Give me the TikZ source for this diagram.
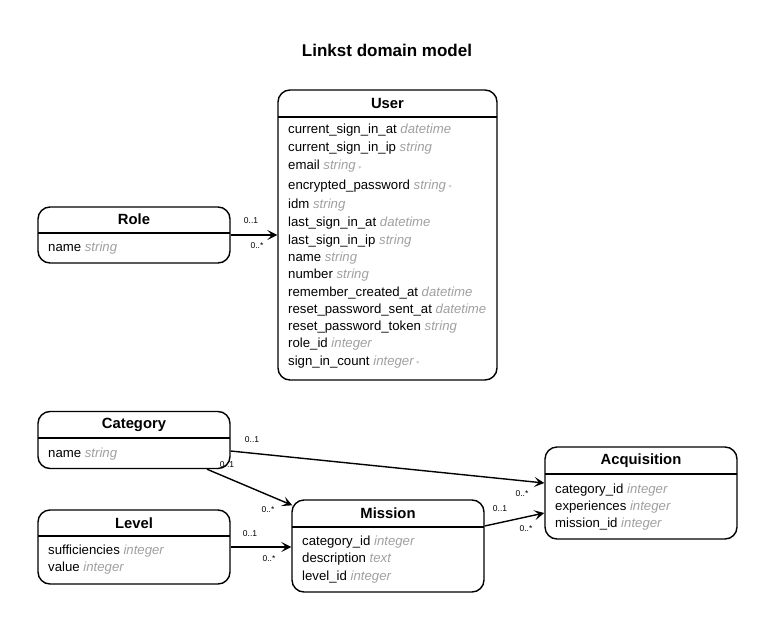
\documentclass[tikz,border=0pt]{standalone}
\usepackage{fontspec}
\setmainfont{Liberation Sans}
\usetikzlibrary{arrows.meta}
\definecolor{typegray}{RGB}{160,160,160}
\tikzset{
  tbl/.style={draw=black, line width=1.4pt, rounded corners=12pt, inner sep=0pt},
  hdr/.style={font=\fontsize{14.8}{16}\selectfont\bfseries, inner sep=0pt},
  attr/.style={anchor=base west, inner sep=0pt, font=\fontsize{13.2}{15}\selectfont},
  sep/.style={line width=1.1pt},
  conn/.style={line width=1.4pt, -{Stealth[length=10pt,width=10pt,inset=4.5pt]}},
  card/.style={font=\fontsize{8.5}{9}\selectfont, inner sep=0pt},
}
\newcommand{\ty}[1]{{\color{typegray}\itshape #1}}
\newcommand{\req}{{\color{typegray}\,\raisebox{0.5pt}{\fontsize{7}{7}\selectfont$\ast$}}}
\begin{document}
\begin{tikzpicture}[x=1pt,y=-1pt]
\useasboundingbox (0,0) rectangle (775,631);
\node[font=\fontsize{17}{19}\selectfont\bfseries, inner sep=0pt] (title) at (387,50) {Linkst domain model};

% User
\node[tbl, minimum width=219pt, minimum height=290pt] (user) at (387.5,235) {};
\node[hdr] (userh) at (387.5,103) {User};
\draw[sep] (278,117) -- (497,117);
\node[attr] (u1) at (288,133.5) {current\_sign\_in\_at \ty{datetime}};
\node[attr] (u2) at (288,151.5) {current\_sign\_in\_ip \ty{string}};
\node[attr] (u3) at (288,169.5) {email \ty{string}\req};
\node[attr] (u4) at (288,189) {encrypted\_password \ty{string}\req};
\node[attr] (u5) at (288,208.5) {idm \ty{string}};
\node[attr] (u6) at (288,226) {last\_sign\_in\_at \ty{datetime}};
\node[attr] (u7) at (288,244) {last\_sign\_in\_ip \ty{string}};
\node[attr] (u8) at (288,261.5) {name \ty{string}};
\node[attr] (u9) at (288,278.5) {number \ty{string}};
\node[attr] (u10) at (288,296) {remember\_created\_at \ty{datetime}};
\node[attr] (u11) at (288,313) {reset\_password\_sent\_at \ty{datetime}};
\node[attr] (u12) at (288,330.5) {reset\_password\_token \ty{string}};
\node[attr] (u13) at (288,347.5) {role\_id \ty{integer}};
\node[attr] (u14) at (288,365) {sign\_in\_count \ty{integer}\req};

% Role
\node[tbl, minimum width=192pt, minimum height=56pt] (role) at (134,235) {};
\node[hdr] (roleh) at (134,219.5) {Role};
\draw[sep] (38,233) -- (230,233);
\node[attr] (r1) at (48,251.5) {name \ty{string}};

% Category
\node[tbl, minimum width=192pt, minimum height=57pt] (cat) at (134,440) {};
\node[hdr] (cath) at (134,424.5) {Category};
\draw[sep] (38,438) -- (230,438);
\node[attr] (c1) at (48,457.5) {name \ty{string}};

% Level
\node[tbl, minimum width=192pt, minimum height=74pt] (lvl) at (134,547) {};
\node[hdr] (lvlh) at (134,523.5) {Level};
\draw[sep] (38,536) -- (230,536);
\node[attr] (l1) at (48,554.5) {sufficiencies \ty{integer}};
\node[attr] (l2) at (48,571.5) {value \ty{integer}};

% Mission
\node[tbl, minimum width=192pt, minimum height=92pt] (mis) at (388,546) {};
\node[hdr] (mish) at (388,513) {Mission};
\draw[sep] (292,527) -- (484,527);
\node[attr] (m1) at (302,545) {category\_id \ty{integer}};
\node[attr] (m2) at (302,562.5) {description \ty{text}};
\node[attr] (m3) at (302,580.5) {level\_id \ty{integer}};

% Acquisition
\node[tbl, minimum width=192pt, minimum height=92pt] (acq) at (641,493) {};
\node[hdr] (acqh) at (641,461) {Acquisition};
\draw[sep] (545,474) -- (737,474);
\node[attr] (a1) at (555,493.5) {category\_id \ty{integer}};
\node[attr] (a2) at (555,510.5) {experiences \ty{integer}};
\node[attr] (a3) at (555,527.5) {mission\_id \ty{integer}};

% connectors
\draw[conn] (role.east) -- (user.west |- role.east);
\node[card] (rc1) at (251,221) {0..1};
\node[card] (rc2) at (257,246) {0..*};

\draw[conn] ([yshift=-11pt]cat.east) -- ([yshift=10pt]acq.west);
\node[card] (cc1) at (252,440) {0..1};
\node[card] (cc2) at (522,494) {0..*};

\draw[conn] ([xshift=73pt]cat.south) -- ([xshift=1pt,yshift=-6pt]mis.north west);
\node[card] (cm1) at (227,465) {0..1};
\node[card] (cm2) at (268,510) {0..*};

\draw[conn] (lvl.east) -- (mis.west |- lvl.east);
\node[card] (lm1) at (250,534) {0..1};
\node[card] (lm2) at (269,559) {0..*};

\draw[conn] ([yshift=20pt]mis.east) -- ([yshift=-20pt]acq.west);
\node[card] (ma1) at (500,509) {0..1};
\node[card] (ma2) at (526,529) {0..*};
\end{tikzpicture}
\end{document}
